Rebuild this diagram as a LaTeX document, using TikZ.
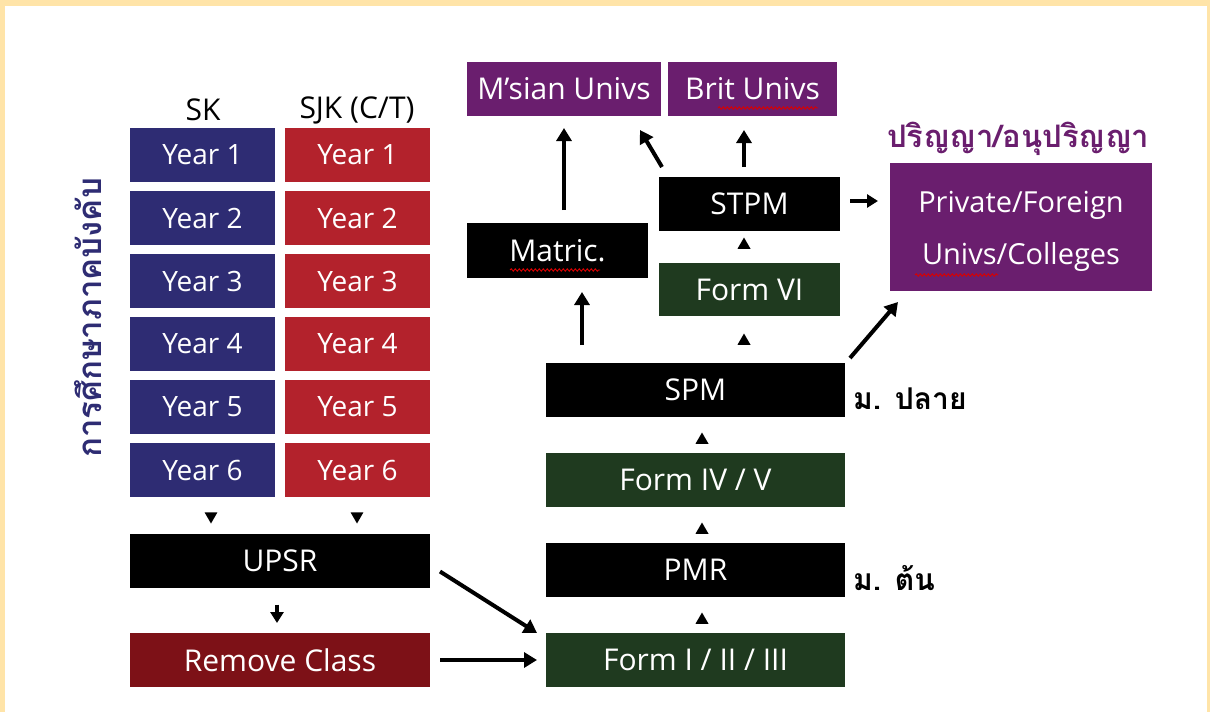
\documentclass[tikz,border=0pt]{standalone}
\usepackage{fontspec}
\setmainfont{Open Sans}
\newfontfamily\thaifont[Script=Thai]{Loma}
\usetikzlibrary{arrows.meta,shapes.geometric,decorations.pathmorphing,calc}
\definecolor{frameyel}{HTML}{FFE4A8}
\definecolor{navyb}{HTML}{2E2C73}
\definecolor{redb}{HTML}{B3222C}
\definecolor{darkred}{HTML}{7D1117}
\definecolor{greenb}{HTML}{1F3A1F}
\definecolor{purpb}{HTML}{6A1E6E}
\tikzset{
  bx/.style={inner sep=0pt, outer sep=0pt, text=white, font=\fontsize{30}{34}\selectfont, draw=none},
  navybox/.style={bx, fill=navyb, minimum width=145pt, minimum height=54pt, font=\fontsize{28}{32}\selectfont},
  redbox/.style={bx, fill=redb, minimum width=145pt, minimum height=54pt, font=\fontsize{28}{32}\selectfont},
  wide/.style={bx, minimum width=300pt, minimum height=54pt},
  blackbox/.style={bx, fill=black},
  greenbox/.style={bx, fill=greenb},
  purpbox/.style={bx, fill=purpb},
  tri/.style={regular polygon, regular polygon sides=3, fill=black, inner sep=0pt, minimum size=15pt},
  arr/.style={line width=4pt, -{Triangle[width=15pt,length=13pt]}},
  squig/.style={red!85!black, line width=0.9pt, decorate, decoration={snake, amplitude=1.2pt, segment length=4pt}},
  lbl/.style={font=\fontsize{30}{34}\selectfont, inner sep=0pt},
  thlbl/.style={inner sep=0pt, font=\thaifont\bfseries\fontsize{30}{34}\selectfont}
}
\begin{document}
\begin{tikzpicture}[x=1pt,y=-1pt]
\useasboundingbox (0,0) rectangle (1210,712);
\fill[frameyel] (0,0) rectangle (1210,712);
\fill[white] (5,6) rectangle (1207,712);

% column headers
\node[lbl] (sk) at (203,110) {SK};
\node[lbl] (sjk) at (357,110) {SJK (C/T)};

% year boxes
\foreach \i/\yy in {1/155,2/218,3/281,4/344,5/407,6/470}{
  \node[navybox] (sk\i) at (202.5,\yy) {Year \i};
  \node[redbox] (sj\i) at (357.5,\yy) {Year \i};
}

% vertical thai
\node[thlbl, rotate=90, text=navyb, font=\thaifont\bfseries\fontsize{33}{36}\selectfont] (compulsory) at (88,318) {การศึกษาภาคบังคับ};

% lower left
\node[tri, shape border rotate=180] (t1) at (211,516) {};
\node[tri, shape border rotate=180] (t2) at (357,516) {};
\node[wide, fill=black] (upsr) at (280,560.5) {UPSR};
\node[wide, fill=darkred] (remove) at (280,660) {Remove Class};

% middle column
\node[wide, fill=black, minimum width=299pt] (spm) at (695.5,390) {SPM};
\node[wide, fill=greenb, minimum width=299pt] (f45) at (695.5,480) {Form IV / V};
\node[wide, fill=black, minimum width=299pt] (pmr) at (695.5,570) {PMR};
\node[wide, fill=greenb, minimum width=299pt] (f123) at (695.5,660) {Form I / II / III};
\node[tri] (t3) at (702,440) {};
\node[tri] (t4) at (702,530) {};
\node[tri] (t5) at (702,620) {};

\node[thlbl, anchor=west] (mplai) at (853,399) {ม. ปลาย};
\node[thlbl, anchor=west] (mton) at (853,578) {ม. ต้น};

% upper middle
\node[purpbox, minimum width=194pt, minimum height=54pt] (msian) at (564,89) {M’sian Univs};
\node[purpbox, minimum width=169pt, minimum height=54pt] (brit) at (752.5,89) {Brit Univs};
\node[blackbox, minimum width=181pt, minimum height=55pt] (matric) at (557.5,250.5) {Matric.};
\node[blackbox, minimum width=181pt, minimum height=54pt] (stpm) at (749.5,204) {STPM};
\node[greenbox, minimum width=181pt, minimum height=53pt] (f6) at (749.5,289.5) {Form VI};
\node[tri] (t6) at (744,245) {};
\node[tri] (t7) at (744,341) {};

% right
\node[thlbl, text=purpb, font=\thaifont\bfseries\fontsize{31}{34}\selectfont] (degree) at (1018,139) {ปริญญา/อนุปริญญา};
\node[purpbox, minimum width=262pt, minimum height=128pt, align=center, font=\fontsize{29}{52}\selectfont] (priv) at (1021,227) {};
\node[bx, font=\fontsize{29}{34}\selectfont] (privA) at (1021,205) {Private/Foreign};
\node[bx, font=\fontsize{29}{34}\selectfont] (privB) at (1021,257) {Univs/Colleges};

% spell-check squiggles
\draw[squig] (718,108) -- (818,108);
\draw[squig] (510,270) -- (600,270);
\draw[squig] (915,275) -- (998,275);

% arrows
\draw[arr, shorten <=13pt, shorten >=12pt] (msian.south |- matric.north) -- (msian.south);
\draw[arr, shorten <=18pt, shorten >=14pt] ([xshift=24.5pt]matric.south |- spm.north) -- ([xshift=24.5pt]matric.south);
\draw[arr] ([shift={(3,-10)}]stpm.north west) -- ([shift={(-21,14)}]msian.south east);
\draw[arr, shorten <=10pt, shorten >=14pt] ([xshift=-5.5pt]stpm.north) -- ([xshift=-5.5pt]stpm.north |- brit.south);
\draw[arr, shorten <=10pt, shorten >=12pt, -{Triangle[width=13pt,length=11pt]}] ([yshift=3pt]stpm.east) -- ([yshift=3pt]stpm.east -| priv.west);
\draw[arr] ([shift={(5,-5)}]spm.north east) -- ([shift={(8,11)}]priv.south west);
\draw[arr, shorten <=17pt, shorten >=10pt, -{Triangle[width=13pt,length=11pt]}] ([xshift=-3pt]upsr.south) -- ([xshift=-3pt]upsr.south |- remove.north);
\draw[arr] ([shift={(10,11)}]upsr.east) -- ([shift={(-9,-27)}]f123.west);
\draw[arr, shorten <=10pt, shorten >=9pt] (remove.east) -- (f123.west);
\end{tikzpicture}
\end{document}
